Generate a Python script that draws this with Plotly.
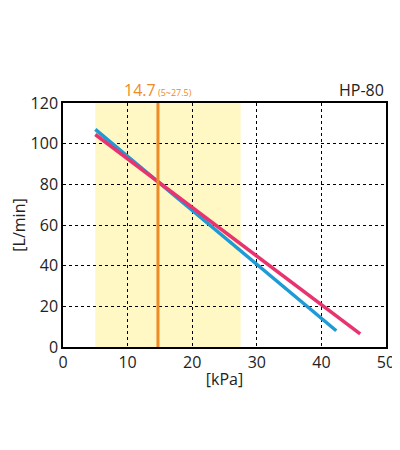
import plotly.graph_objects as go

blue_x = [5, 42.3]
blue_y = [107, 8]
pink_x = [5, 46]
pink_y = [104.5, 6.5]
band = [5, 27.5]
op_x = 14.7
x_ticks = [0, 10, 20, 30, 40, 50]
y_ticks = [0, 20, 40, 60, 80, 100, 120]

fig = go.Figure()
fig.add_vrect(x0=band[0], x1=band[1], fillcolor="#fff8c4", line_width=0, layer="below")
fig.add_trace(go.Scatter(x=blue_x, y=blue_y, mode="lines", line=dict(color="#1e9ad6", width=3.5), cliponaxis=False))
fig.add_trace(go.Scatter(x=pink_x, y=pink_y, mode="lines", line=dict(color="#e8336e", width=3.5), cliponaxis=False))
fig.add_vline(x=op_x, line=dict(color="#f08a24", width=3))
fig.add_annotation(x=op_x, y=1.0, yref="paper", yanchor="bottom", showarrow=False,
                   text="14.7<span style='font-size:9px'> (5~27.5)</span>",
                   font=dict(color="#f08a24", size=16), xanchor="center")
fig.add_annotation(x=1, y=1.0, xref="paper", yref="paper", xanchor="right", yanchor="bottom",
                   showarrow=False, text="HP-80", font=dict(size=16, color="#222"))
ax = dict(showline=True, linecolor="black", linewidth=1.5, mirror=True,
          gridcolor="black", griddash="dot", gridwidth=1, zeroline=False,
          ticks="", tickfont=dict(size=16, color="#222"), automargin=False)
fig.update_xaxes(range=[0, 50], tickvals=x_ticks, title=dict(text="[kPa]", font=dict(size=16, color="#222"), standoff=2), **ax)
fig.update_yaxes(range=[0, 120], tickvals=y_ticks, title=dict(text="[L/min]", font=dict(size=16, color="#222"), standoff=4), **ax)
fig.update_layout(width=400, height=450, showlegend=False, plot_bgcolor="white", paper_bgcolor="white",
                  margin=dict(l=55, r=22, t=95, b=111, autoexpand=False), font=dict(family="Open Sans"))
fig.write_html("out.html")
